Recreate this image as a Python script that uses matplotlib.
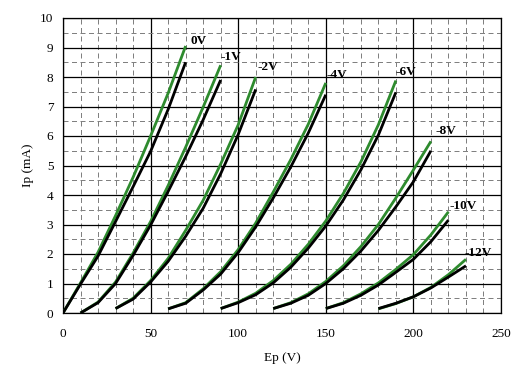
import matplotlib
matplotlib.use("Agg")
import matplotlib.pyplot as plt
from matplotlib.ticker import MultipleLocator

# plate characteristic curves, one pair (measured / model) per grid voltage
grid_labels = ["0V", "-1V", "-2V", "-4V", "-6V", "-8V", "-10V", "-12V"]

ep_0v = [0, 10, 20, 30, 40, 50, 60, 70]
ip_0v_meas = [0, 0.98, 1.93, 3.1, 4.28, 5.48, 6.9, 8.5]
ip_0v_model = [0, 1.02, 2.06, 3.3, 4.6, 6.0, 7.45, 9.05]

ep_1v = [10, 20, 30, 40, 50, 60, 70, 80, 90]
ip_1v_meas = [0, 0.35, 1.0, 1.95, 2.98, 4.12, 5.3, 6.55, 7.9]
ip_1v_model = [0, 0.37, 1.05, 2.03, 3.1, 4.32, 5.62, 6.98, 8.4]

ep_2v = [30, 40, 50, 60, 70, 80, 90, 100, 110]
ip_2v_meas = [0.15, 0.47, 1.05, 1.75, 2.6, 3.55, 4.72, 6.05, 7.58]
ip_2v_model = [0.15, 0.5, 1.1, 1.85, 2.8, 3.82, 5.05, 6.38, 8.0]

ep_4v = [60, 70, 80, 90, 100, 110, 120, 130, 140, 150]
ip_4v_meas = [0.14, 0.33, 0.78, 1.32, 2.05, 2.92, 3.9, 4.95, 6.1, 7.4]
ip_4v_model = [0.14, 0.35, 0.82, 1.4, 2.15, 3.05, 4.1, 5.2, 6.4, 7.8]

ep_6v = [90, 100, 110, 120, 130, 140, 150, 160, 170, 180, 190]
ip_6v_meas = [0.15, 0.35, 0.62, 1.02, 1.55, 2.2, 2.95, 3.83, 4.85, 6.03, 7.48]
ip_6v_model = [0.15, 0.37, 0.67, 1.1, 1.65, 2.33, 3.12, 4.05, 5.12, 6.38, 7.88]

ep_8v = [120, 130, 140, 150, 160, 170, 180, 190, 200, 210]
ip_8v_meas = [0.15, 0.33, 0.6, 1.0, 1.5, 2.1, 2.8, 3.6, 4.45, 5.5]
ip_8v_model = [0.15, 0.35, 0.65, 1.07, 1.6, 2.25, 3.0, 3.9, 4.85, 5.82]

ep_10v = [150, 160, 170, 180, 190, 200, 210, 220]
ip_10v_meas = [0.15, 0.33, 0.6, 0.95, 1.38, 1.82, 2.42, 3.15]
ip_10v_model = [0.15, 0.35, 0.65, 1.02, 1.48, 1.98, 2.65, 3.43]

ep_12v = [180, 190, 200, 210, 220, 230]
ip_12v_meas = [0.15, 0.33, 0.55, 0.85, 1.22, 1.6]
ip_12v_model = [0.14, 0.32, 0.55, 0.87, 1.3, 1.82]

curves = [
    (ep_0v, ip_0v_meas, ip_0v_model),
    (ep_1v, ip_1v_meas, ip_1v_model),
    (ep_2v, ip_2v_meas, ip_2v_model),
    (ep_4v, ip_4v_meas, ip_4v_model),
    (ep_6v, ip_6v_meas, ip_6v_model),
    (ep_8v, ip_8v_meas, ip_8v_model),
    (ep_10v, ip_10v_meas, ip_10v_model),
    (ep_12v, ip_12v_meas, ip_12v_model),
]
# label nudge from the end of the model curve, in pixels
label_nudge = [(5, 5), (0, 8), (2, 10), (1, 8), (0, 9), (5, 10), (1, 6), (-1, 6)]

plt.rcParams["font.family"] = ["Liberation Serif", "DejaVu Serif"]

fig = plt.figure(figsize=(5.23, 3.73), dpi=100)
ax = fig.add_axes([63 / 523, 60 / 373, 438 / 523, 295 / 373])

for (ep, meas, model), lab, (dx, dy) in zip(curves, grid_labels, label_nudge):
    ax.plot(ep, model, color="#2e8b2e", lw=2.0, solid_capstyle="butt", zorder=3)
    ax.plot(ep, meas, color="black", lw=2.0, solid_capstyle="butt", zorder=4)
    ax.annotate(lab, (ep[-1], model[-1]), xytext=(dx * 0.72, dy * 0.72),
                textcoords="offset points", ha="left", va="center",
                fontsize=9.5, fontweight="bold", zorder=5)

ax.set_xlim(0, 250)
ax.set_ylim(0, 10)
ax.xaxis.set_major_locator(MultipleLocator(50))
ax.xaxis.set_minor_locator(MultipleLocator(10))
ax.yaxis.set_major_locator(MultipleLocator(1))
ax.yaxis.set_minor_locator(MultipleLocator(0.5))
ax.grid(which="major", color="black", lw=0.9, ls="-")
ax.grid(which="minor", color="#808080", lw=0.72, ls=(0, (5, 3.5)))
ax.set_axisbelow(True)
ax.tick_params(which="both", length=0, labelsize=9.5)
ax.tick_params(axis="x", pad=11)
ax.tick_params(axis="y", pad=7)
for s in ax.spines.values():
    s.set_linewidth(0.9)

ax.set_xlabel("Ep (V)", fontsize=9.5, va="center")
ax.set_ylabel("Ip (mA)", fontsize=9.5, va="center")
ax.xaxis.set_label_coords(0.5, -44.5 / 295)
ax.yaxis.set_label_coords(-35 / 438, 0.5)

fig.savefig("out.png", dpi=100)
